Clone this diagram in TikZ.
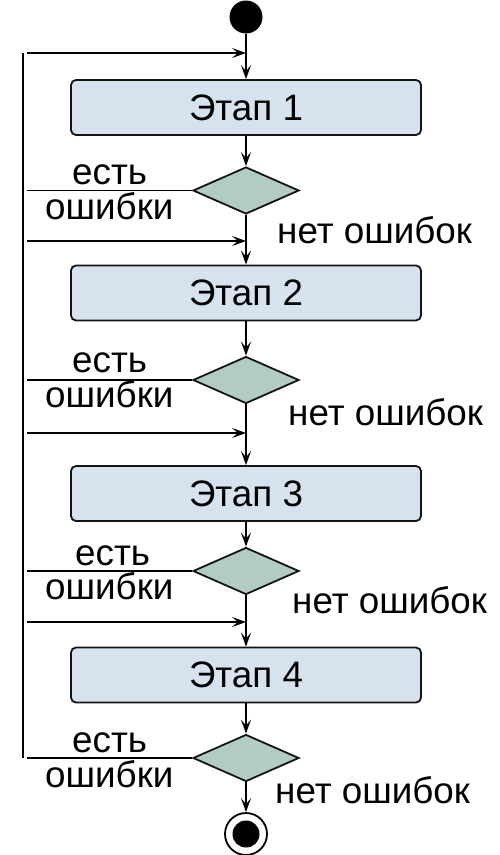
\documentclass[tikz,border=0pt]{standalone}
\usepackage{fontspec}
\setmainfont{Liberation Sans}
\usetikzlibrary{shapes.geometric,arrows.meta}
\definecolor{stagefill}{HTML}{D6E3EE}
\definecolor{decisionfill}{HTML}{B0CCC4}
\definecolor{edge}{HTML}{141414}
\begin{document}
\begin{tikzpicture}[x=1pt,y=-1pt,
  flow/.style={line width=1.9pt,draw=black,-{Stealth[length=14pt,width=10pt,inset=6pt]}},
  link/.style={line width=1.9pt,draw=black},
  stagebox/.style={draw=edge,line width=1.8pt,rounded corners=5pt,fill=stagefill,
    minimum width=350pt,minimum height=55pt,inner sep=0pt,font=\fontsize{36.8}{40}\selectfont},
  decision/.style={diamond,draw=edge,line width=1.8pt,fill=decisionfill,
    minimum width=106pt,minimum height=47pt,inner sep=0pt},
  lbl/.style={font=\fontsize{36.8}{40}\selectfont,inner sep=0pt,anchor=base west}
]
\useasboundingbox (0,0) rectangle (500,855);

% start / end
\node[circle,fill=black,minimum size=33pt,inner sep=0pt] (start) at (246,17) {};
\node[circle,draw=black,line width=1.8pt,fill=white,minimum size=42pt,inner sep=0pt] (finish) at (246,834) {};
\fill[black] (finish.center) circle (13.5pt);

% stages and decisions
\node[stagebox] (s1) at (246,107.5) {Этап 1};
\node[decision] (d1) at (246,190.5) {};
\node[stagebox] (s2) at (246,293) {Этап 2};
\node[decision] (d2) at (246,380) {};
\node[stagebox] (s3) at (246,493.5) {Этап 3};
\node[decision] (d3) at (246,571) {};
\node[stagebox] (s4) at (246,675) {Этап 4};
\node[decision] (d4) at (246,758) {};

% merge points on the main line and loop ends
\coordinate (m1) at (246,53);
\coordinate (m2) at (246,241);
\coordinate (m3) at (246,433);
\coordinate (m4) at (246,622);
\coordinate (r1) at (27,53);
\coordinate (r2) at (27,241);
\coordinate (r3) at (27,433);
\coordinate (r4) at (27,622);
\coordinate (e1) at (27,190.5);
\coordinate (e2) at (27,380);
\coordinate (e3) at (27,571);
\coordinate (e4) at (27,758);
\coordinate (ltop) at (23,53);
\coordinate (lbot) at (23,758);

% main flow
\draw[flow] (start) -- (s1);
\draw[flow] (s1) -- (d1);
\draw[flow] (d1) -- (s2);
\draw[flow] (s2) -- (d2);
\draw[flow] (d2) -- (s3);
\draw[flow] (s3) -- (d3);
\draw[flow] (d3) -- (s4);
\draw[flow] (s4) -- (d4);
\draw[flow] (d4) -- (finish);

% error returns
\draw[link] (d1.west) -- (e1);
\draw[link] (d2.west) -- (e2);
\draw[link] (d3.west) -- (e3);
\draw[link] (d4.west) -- (e4);
\draw[link] (ltop) -- (lbot);
\draw[flow] (r1) -- (m1);
\draw[flow] (r2) -- (m2);
\draw[flow] (r3) -- (m3);
\draw[flow] (r4) -- (m4);

% branch labels
\node[lbl] (y1) at (72,184) {есть};
\node[lbl] (o1) at (45,219) {ошибки};
\node[lbl] (n1) at (277,243) {нет ошибок};
\node[lbl] (y2) at (72,372) {есть};
\node[lbl] (o2) at (45,407) {ошибки};
\node[lbl] (n2) at (288,425) {нет ошибок};
\node[lbl] (y3) at (75,565) {есть};
\node[lbl] (o3) at (45,599) {ошибки};
\node[lbl] (n3) at (292,613) {нет ошибок};
\node[lbl] (y4) at (72,752) {есть};
\node[lbl] (o4) at (45,787) {ошибки};
\node[lbl] (n4) at (275,803) {нет ошибок};
\end{tikzpicture}
\end{document}
